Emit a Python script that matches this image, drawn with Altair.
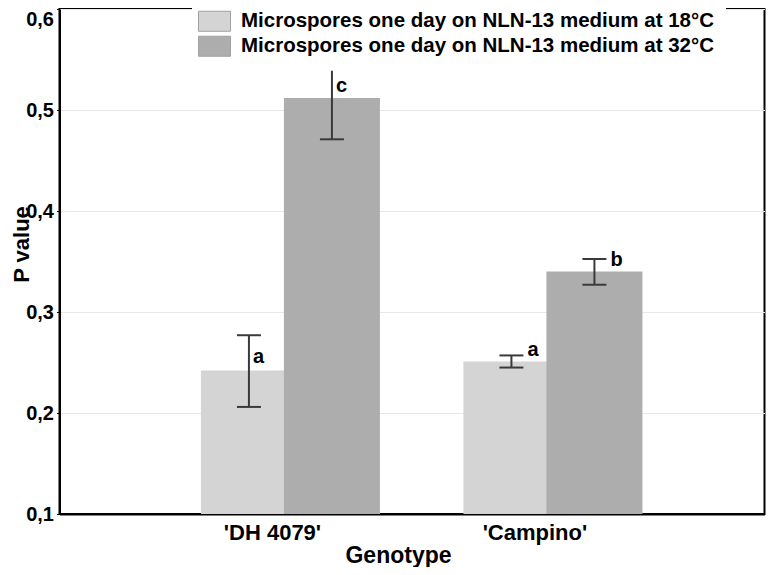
import altair as alt
import pandas as pd

# ---- data ----
genotypes = ["'DH 4079'", "'Campino'"]
conditions = [
    "Microspores one day on NLN-13 medium at 18°C",
    "Microspores one day on NLN-13 medium at 32°C",
]
mean_18 = [0.242, 0.251]
mean_32 = [0.512, 0.340]
low_18 = [0.206, 0.245]
high_18 = [0.277, 0.257]
low_32 = [0.471, 0.327]
high_32 = [0.553, 0.3525]
letters_18 = ["a", "a"]
letters_32 = ["c", "b"]
letter_y_18 = [0.255, 0.262]
letter_y_32 = [0.524, 0.3515]
y_ticks = [0.1, 0.2, 0.3, 0.4, 0.5, 0.6]
y_domain = [0.1, 0.6]
bar_colors = ["#d4d4d4", "#adadad"]

rows = []
for cond, means, lows, highs, lets, lys in [
    (conditions[0], mean_18, low_18, high_18, letters_18, letter_y_18),
    (conditions[1], mean_32, low_32, high_32, letters_32, letter_y_32),
]:
    for g, m, lo, hi, l, ly in zip(genotypes, means, lows, highs, lets, lys):
        rows.append(dict(genotype=g, condition=cond, mean=m, low=lo, high=hi,
                         letter=l, letter_y=ly))
df = pd.DataFrame(rows)

FONT = "Liberation Sans"

x_axis = alt.Axis(
    title="Genotype", labelFontSize=22, labelFontWeight="bold", labelColor="black",
    labelFont=FONT, labelAngle=0, labelOffset=-18, labelPadding=8, ticks=False,
    tickSize=0, domainColor="black", domainWidth=2, titleFontSize=23,
    titleFont=FONT, titleFontWeight="bold", titleColor="black", titleX=338.5,
    titleY=48, titleBaseline="alphabetic", titleAlign="center",
)
x_enc = alt.X(
    "genotype:N", sort=genotypes,
    scale=alt.Scale(paddingInner=0.3676, paddingOuter=0.5267, align=0.535),
    axis=x_axis,
)
xo_enc = alt.XOffset("condition:N", sort=conditions,
                     scale=alt.Scale(paddingInner=0, paddingOuter=0))

y_scale = alt.Scale(domain=y_domain, zero=False, nice=False)
y_axis = alt.Axis(
    values=y_ticks,
    labelExpr="replace(format(datum.value, '.1f'), '.', ',')",
    labelOffset={"condition": {"test": "datum.value >= 0.59", "value": 10}, "value": 0},
    grid=True, gridColor="#e8e8e8", gridWidth=1,
    tickSize=3, tickColor="black", domainColor="black", domainWidth=2,
    labelPadding=3, labelFontSize=20, labelFontWeight="bold", labelColor="black",
    labelFont=FONT, title="P value", titleFontSize=22, titleFontWeight="bold",
    titleFont=FONT, titleColor="black", titleX=-31.5, titleY=235,
    titleBaseline="alphabetic", titleAngle=270, titleAlign="center",
)

color_enc = alt.Color(
    "condition:N", sort=conditions,
    scale=alt.Scale(domain=conditions, range=bar_colors),
    legend=alt.Legend(
        orient="none", legendX=132.5, legendY=-10.25, title=None,
        labelFontSize=20.5, labelFont=FONT, labelFontWeight="bold",
        labelColor="black", symbolType="M-1.6,-1H1.6V1H-1.6Z",
        symbolSize=400, symbolStrokeColor="#a0a0a0", symbolStrokeWidth=1,
        symbolOpacity=1, fillColor="white", padding=12, rowPadding=0,
        labelOffset=16, labelLimit=600,
    ),
)

base = alt.Chart(df)

bars = base.mark_bar(width=96, opacity=1).encode(
    x=x_enc, xOffset=xo_enc,
    y=alt.Y("mean:Q", scale=y_scale, axis=y_axis),
    y2=alt.datum(y_domain[0]),
    color=color_enc,
)

err_color = "#3a3a3a"
stems = base.mark_rule(color=err_color, strokeWidth=2).encode(
    x=x_enc, xOffset=xo_enc,
    y=alt.Y("low:Q", scale=y_scale, axis=y_axis), y2="high:Q",
)
caps_low = base.mark_tick(orient="horizontal", size=24, thickness=2,
                          color=err_color, opacity=1).encode(
    x=x_enc, xOffset=xo_enc, y=alt.Y("low:Q", scale=y_scale, axis=y_axis),
)
caps_high = base.mark_tick(orient="horizontal", size=24, thickness=2,
                           color=err_color, opacity=1).encode(
    x=x_enc, xOffset=xo_enc, y=alt.Y("high:Q", scale=y_scale, axis=y_axis),
)

text_kw = dict(align="left", baseline="middle", fontSize=20,
               fontWeight="bold", font=FONT, color="black")
letters_near = base.mark_text(dx=4, **text_kw).encode(
    x=x_enc, xOffset=xo_enc,
    y=alt.Y("letter_y:Q", scale=y_scale, axis=y_axis), text="letter:N",
).transform_filter(alt.datum.genotype == genotypes[0])
letters_far = base.mark_text(dx=16, **text_kw).encode(
    x=x_enc, xOffset=xo_enc,
    y=alt.Y("letter_y:Q", scale=y_scale, axis=y_axis), text="letter:N",
).transform_filter(alt.datum.genotype == genotypes[1])

chart = (
    alt.layer(bars, stems, caps_low, caps_high, letters_near, letters_far)
    .properties(
        width=705, height=505,
        autosize=alt.AutoSizeParams(type="none"),
        padding={"left": 51.5, "top": 1, "right": 1.5, "bottom": 53},
        background="white",
    )
    .configure_view(stroke="black", strokeWidth=2)
)

chart.save("out.html", embed_options={"renderer": "svg", "actions": False})
